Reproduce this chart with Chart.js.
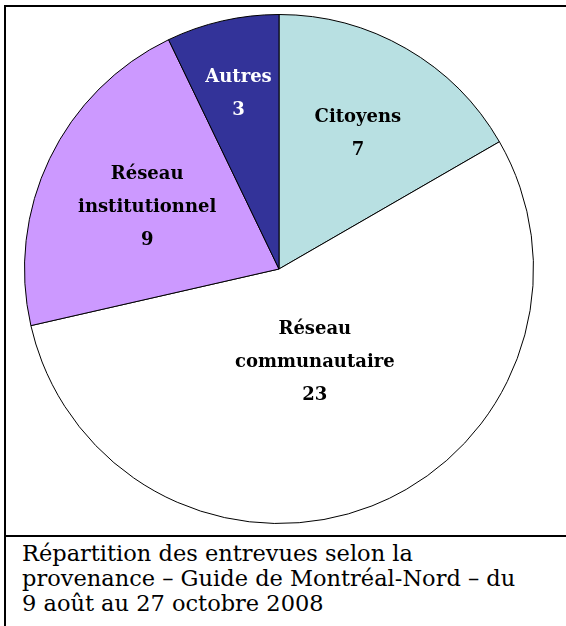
<!DOCTYPE html>
<html lang="fr">
<head>
<meta charset="utf-8">
<script src="https://cdn.jsdelivr.net/npm/chart.js@4.4.1/dist/chart.umd.min.js"></script>
<style>
  html, body { margin: 0; padding: 0; background: #fff; width: 566px; height: 626px; overflow: hidden; }
  #box {
    position: absolute; left: 4px; top: 5px; width: 620px; height: 528px;
    border: 2px solid #000;
  }
  #capcell {
    position: absolute; left: 4px; top: 537px; width: 600px; height: 100px;
    border-left: 2px solid #000;
  }
  #pie { position: absolute; left: 24px; top: 14px; width: 510px; height: 510px; }
  #caption {
    position: absolute; left: 22px; top: 541px;
    font-family: "DejaVu Serif", serif; font-size: 22.5px; line-height: 25px; color: #000;
    white-space: nowrap;
  }
</style>
</head>
<body>
<div id="box"></div>
<div id="capcell"></div>
<div id="pie"><canvas id="c"></canvas></div>
<div id="caption">Répartition des entrevues selon la<br>provenance – Guide de Montréal-Nord – du<br>9 août au 27 octobre 2008</div>

<script>
// données
const categories = ["Citoyens", "Réseau communautaire", "Réseau institutionnel", "Autres"];
const labelLines = [["Citoyens"], ["Réseau", "communautaire"], ["Réseau", "institutionnel"], ["Autres"]];
const counts = [7, 23, 9, 3];

const sliceColors = ["#B8E0E2", "#FFFFFF", "#CC99FF", "#333399"];
const textColors = ["#000", "#000", "#000", "#fff"];

// étiquettes dans les parts (à la Excel)
const sliceLabels = {
  id: "sliceLabels",
  afterDatasetsDraw(chart, args, opts) {
    const ctx = chart.ctx;
    const meta = chart.getDatasetMeta(0);
    ctx.save();
    ctx.font = "bold 18px 'DejaVu Serif', serif";
    ctx.textAlign = "center";
    ctx.textBaseline = "alphabetic";
    meta.data.forEach((arc, i) => {
      const mid = (arc.startAngle + arc.endAngle) / 2;
      const r = arc.outerRadius * opts.radius[i];
      const cx = arc.x + Math.cos(mid) * r;
      const cy = arc.y + Math.sin(mid) * r;
      const lines = labelLines[i].concat([String(counts[i])]);
      const lh = 33, cap = 13;
      ctx.fillStyle = textColors[i];
      lines.forEach((t, k) => {
        const y = cy + (k - (lines.length - 1) / 2) * lh + cap / 2;
        ctx.fillText(t, cx, y);
      });
    });
    ctx.restore();
  }
};

new Chart(document.getElementById("c").getContext("2d"), {
  type: "pie",
  data: {
    labels: categories,
    datasets: [{
      data: counts,
      backgroundColor: sliceColors,
      borderColor: "#000",
      borderWidth: 1,
    }],
  },
  options: {
    responsive: true,
    maintainAspectRatio: false,
    animation: false,
    layout: { padding: 0 },
    plugins: {
      legend: { display: false },
      tooltip: { enabled: false },
      sliceLabels: { radius: [0.62, 0.385, 0.575, 0.715] },
    },
  },
  plugins: [sliceLabels],
});
</script>
</body>
</html>
